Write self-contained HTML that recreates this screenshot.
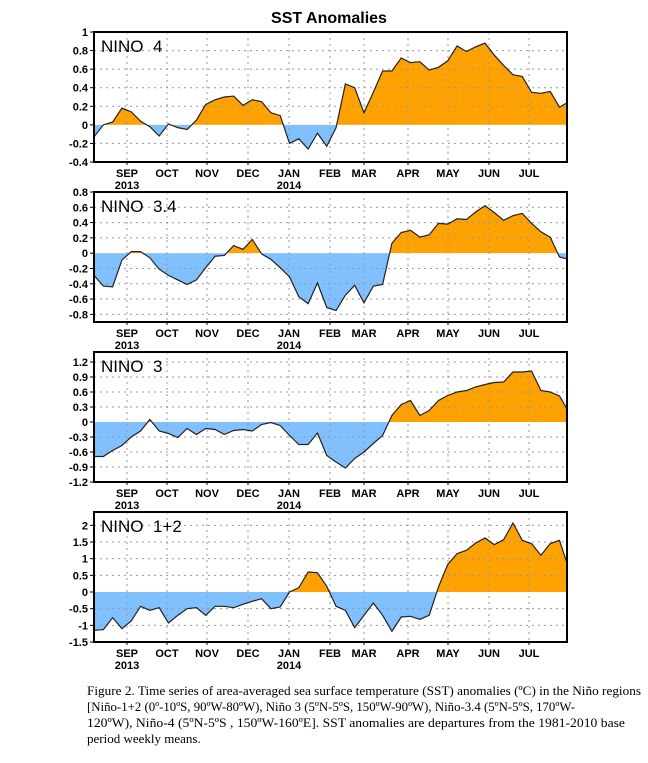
<!DOCTYPE html>
<html><head><meta charset="utf-8"><style>
html,body{margin:0;padding:0;background:#fff;}
svg{display:block;}
</style></head><body>
<svg id="chart" width="648" height="763" viewBox="0 0 648 763" xmlns="http://www.w3.org/2000/svg">
<text x="329" y="23" text-anchor="middle" font-family="Liberation Sans, sans-serif" font-weight="bold" font-size="16">SST Anomalies</text>
<g id="panels"></g>
<g font-family="Liberation Serif, serif" font-size="13">
<text x="87" y="695" textLength="554" lengthAdjust="spacingAndGlyphs">Figure 2. Time series of area-averaged sea surface temperature (SST) anomalies (ºC) in the Niño regions</text>
<text x="87" y="711" textLength="488" lengthAdjust="spacingAndGlyphs">[Niño-1+2 (0º-10ºS, 90ºW-80ºW), Niño 3 (5ºN-5ºS, 150ºW-90ºW), Niño-3.4 (5ºN-5ºS, 170ºW-</text>
<text x="87" y="727" textLength="538" lengthAdjust="spacingAndGlyphs">120ºW), Niño-4 (5ºN-5ºS , 150ºW-160ºE].  SST anomalies are departures from the 1981-2010  base</text>
<text x="87" y="743">period weekly means.</text>
</g>
</svg>
<script>
const monthLabels = ["SEP","OCT","NOV","DEC","JAN","FEB","MAR","APR","MAY","JUN","JUL"];
const monthPos = [127,167,207,248,289,330,364,408,448,489,529];
const panelNames = ["NINO  4","NINO  3.4","NINO  3","NINO  1+2"];
const nino4 = [-0.13,0.0,0.03,0.18,0.14,0.04,-0.02,-0.12,0.01,-0.03,-0.05,0.05,0.22,0.27,0.30,0.31,0.21,0.27,0.25,0.13,0.10,-0.20,-0.15,-0.26,-0.09,-0.23,-0.03,0.44,0.40,0.13,0.35,0.58,0.58,0.72,0.67,0.68,0.59,0.62,0.69,0.85,0.79,0.84,0.88,0.75,0.64,0.54,0.52,0.35,0.34,0.36,0.19,0.25];
const nino34 = [-0.29,-0.43,-0.44,-0.09,0.02,0.02,-0.06,-0.21,-0.29,-0.35,-0.41,-0.35,-0.19,-0.04,-0.03,0.10,0.05,0.18,-0.01,-0.08,-0.19,-0.31,-0.57,-0.66,-0.39,-0.71,-0.75,-0.55,-0.42,-0.65,-0.43,-0.41,0.13,0.27,0.30,0.21,0.24,0.39,0.38,0.45,0.44,0.54,0.62,0.53,0.43,0.49,0.52,0.39,0.28,0.21,-0.05,-0.08];
const nino3 = [-0.69,-0.69,-0.57,-0.47,-0.30,-0.18,0.05,-0.18,-0.23,-0.31,-0.13,-0.25,-0.13,-0.15,-0.25,-0.17,-0.15,-0.18,-0.05,-0.01,-0.07,-0.27,-0.45,-0.45,-0.22,-0.67,-0.80,-0.92,-0.73,-0.60,-0.43,-0.27,0.13,0.35,0.43,0.13,0.23,0.43,0.53,0.60,0.63,0.70,0.75,0.79,0.80,1.00,1.00,1.02,0.63,0.60,0.52,0.20];
const nino12 = [-1.15,-1.13,-0.77,-1.10,-0.87,-0.43,-0.55,-0.47,-0.93,-0.70,-0.50,-0.47,-0.70,-0.43,-0.43,-0.47,-0.37,-0.28,-0.20,-0.50,-0.45,0.0,0.13,0.60,0.58,0.17,-0.43,-0.55,-1.07,-0.70,-0.33,-0.70,-1.18,-0.75,-0.73,-0.82,-0.70,0.15,0.83,1.15,1.25,1.47,1.62,1.42,1.57,2.07,1.55,1.45,1.10,1.45,1.55,0.70];
const ticks4 = [1,0.8,0.6,0.4,0.2,0,-0.2,-0.4];
const ticks34 = [0.8,0.6,0.4,0.2,0,-0.2,-0.4,-0.6,-0.8];
const ticks3 = [1.2,0.9,0.6,0.3,0,-0.3,-0.6,-0.9,-1.2];
const ticks12 = [2,1.5,1,0.5,0,-0.5,-1,-1.5];
const tickLabels4 = ["1","0.8","0.6","0.4","0.2","0","-0.2","-0.4"];
const tickLabels34 = ["0.8","0.6","0.4","0.2","0","-0.2","-0.4","-0.6","-0.8"];
const tickLabels3 = ["1.2","0.9","0.6","0.3","0","-0.3","-0.6","-0.9","-1.2"];
const tickLabels12 = ["2","1.5","1","0.5","0","-0.5","-1","-1.5"];
const yMin = [-0.4,-0.9,-1.2,-1.5];
const yMax = [1.0,0.8,1.4,2.4];

const NS="http://www.w3.org/2000/svg";
const root=document.getElementById('panels');
function mk(tag,attrs,parent){const e=document.createElementNS(NS,tag);for(const k in attrs)e.setAttribute(k,attrs[k]);(parent||root).appendChild(e);return e;}
const X0=94,X1=567,STEP=9.31;
const series=[nino4,nino34,nino3,nino12];
const tks=[ticks4,ticks34,ticks3,ticks12];
const tls=[tickLabels4,tickLabels34,tickLabels3,tickLabels12];
const keys=["nino4","nino34","nino3","nino12"];
series.forEach((data,p)=>{
  const top=32+p*160, bot=top+130;
  const ys=v=>bot-(v-yMin[p])/(yMax[p]-yMin[p])*130;
  const xs=i=>X0+i*STEP;
  const g=mk('g',{});
  
  
  const cid='clip'+p;
  const cp=mk('clipPath',{id:cid},g); mk('rect',{x:X0,y:top,width:X1-X0,height:130},cp);
  const y0=ys(0);
  let pts=data.map((v,i)=>xs(i)+','+ys(v)).join(' ');
  const last=xs(data.length-1);
  const area='M'+X0+','+y0+' L'+pts.split(' ').join(' L')+' L'+last+','+y0+' Z';
  const cpPos=mk('clipPath',{id:cid+'p'},g); mk('rect',{x:X0,y:top,width:X1-X0,height:y0-top},cpPos);
  const cpNeg=mk('clipPath',{id:cid+'n'},g); mk('rect',{x:X0,y:y0,width:X1-X0,height:bot-y0},cpNeg);
  const gp=mk('g',{'clip-path':'url(#'+cid+'p)'},g);
  const a1=mk('path',{d:area,fill:'#ffa200'},gp);
  
  
  const gn=mk('g',{'clip-path':'url(#'+cid+'n)'},g);
  const a2=mk('path',{d:area,fill:'#80c0ff'},gn);
  
  
  // grid
  tks[p].forEach(t=>{ if(t!==0) mk('line',{x1:X0,x2:X1,y1:ys(t),y2:ys(t),stroke:'#999','stroke-width':1,'stroke-dasharray':'2,4'},g);});
  monthPos.forEach(m=>mk('line',{x1:m,x2:m,y1:top,y2:bot,stroke:'#999','stroke-width':1,'stroke-dasharray':'2,4'},g));
  const ln=mk('polyline',{points:pts,fill:'none',stroke:'#222','stroke-width':1.2,'clip-path':'url(#'+cid+')'},g);
  
  
  mk('rect',{x:X0,y:top,width:X1-X0,height:130,fill:'none',stroke:'#000','stroke-width':2},g);
  // y ticks
  tks[p].forEach((t,k)=>{
    const y=ys(t);
    mk('line',{x1:X0-4,x2:X0,y1:y,y2:y,stroke:'#000','stroke-width':1},g);
    const tx=mk('text',{x:X0-6,y:y+4,'text-anchor':'end','font-family':'Liberation Sans, sans-serif','font-weight':'bold','font-size':11},g);
    tx.textContent=tls[p][k];
    
    
  });
  monthLabels.forEach((m,k)=>{
    mk('line',{x1:monthPos[k],x2:monthPos[k],y1:bot,y2:bot+3,stroke:'#000','stroke-width':1},g);
    const tx=mk('text',{x:monthPos[k],y:bot+15,'text-anchor':'middle','font-family':'Liberation Sans, sans-serif','font-weight':'bold','font-size':11},g);
    tx.textContent=m;
    
    
  });
  [[127,'2013'],[289,'2014']].forEach(([x,yr])=>{
    const tx=mk('text',{x:x,y:bot+27,'text-anchor':'middle','font-family':'Liberation Sans, sans-serif','font-weight':'bold','font-size':11},g);
    tx.textContent=yr;
    
    
  });
  const lbl=mk('text',{x:101,y:top+20,'font-family':'Liberation Sans, sans-serif','font-size':17,'xml:space':'preserve'},g);
  lbl.setAttribute('style','white-space:pre');
  lbl.textContent=panelNames[p];
  
  
});
</script>
</body></html>
